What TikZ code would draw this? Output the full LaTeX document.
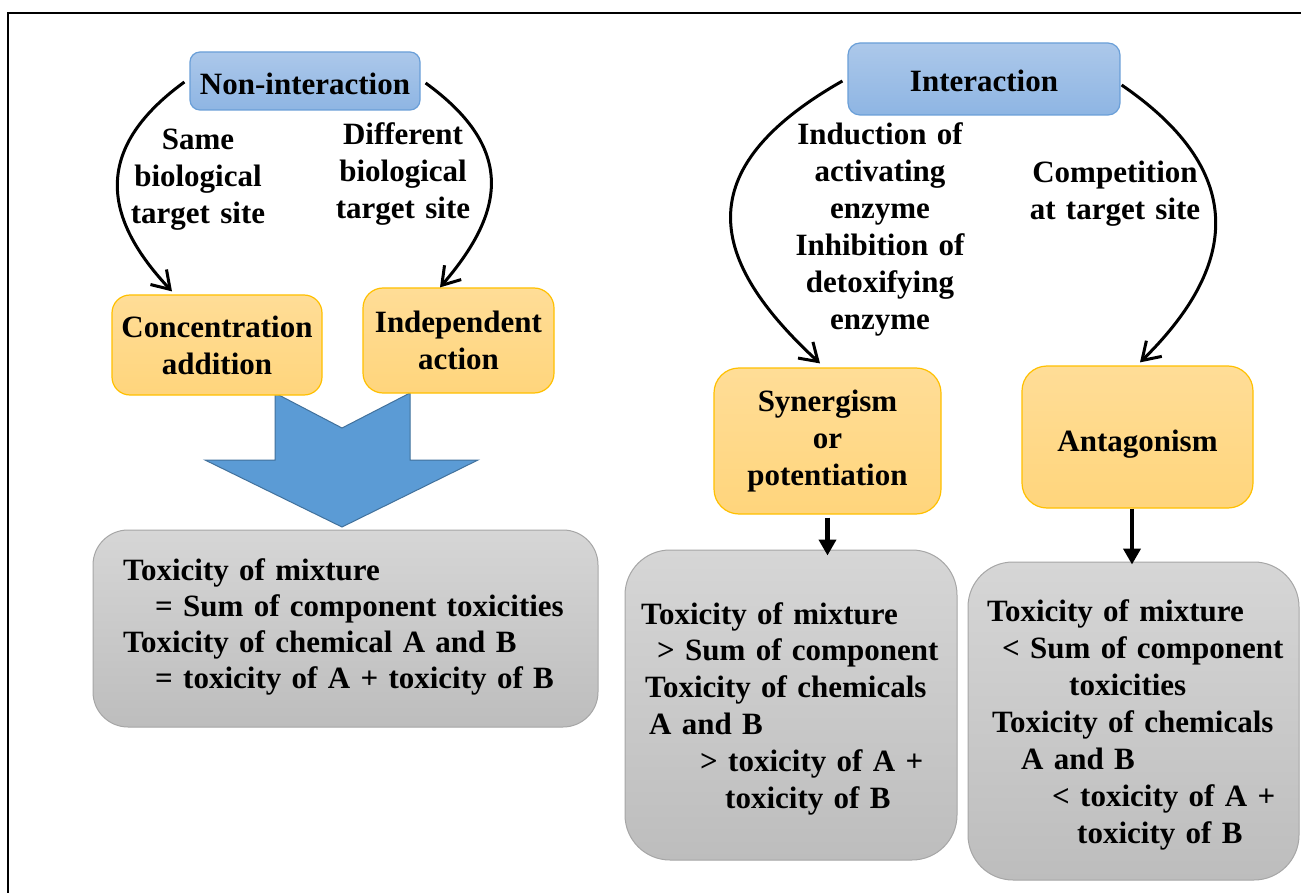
\documentclass[tikz,border=0pt]{standalone}
\usepackage{fontspec}
\setmainfont{Liberation Serif}
\usetikzlibrary{arrows.meta,calc}
\definecolor{bluetop}{HTML}{ACC8EA}
\definecolor{bluebot}{HTML}{8EB5E3}
\definecolor{blueedge}{HTML}{6A9FD8}
\definecolor{ortop}{HTML}{FFDD97}
\definecolor{orbot}{HTML}{FFD57C}
\definecolor{oredge}{HTML}{FFC000}
\definecolor{grtop}{HTML}{D6D6D6}
\definecolor{grbot}{HTML}{BDBDBD}
\definecolor{gredge}{HTML}{A6A6A6}
\definecolor{arrfill}{HTML}{5B9BD5}
\definecolor{arredge}{HTML}{41719C}
\begin{document}
\begin{tikzpicture}[x=1pt,y=-1pt,
  every node/.style={font=\fontsize{31}{37}\selectfont\bfseries, inner sep=0pt},
  bluebox/.style={draw=blueedge, line width=1.2pt, top color=bluetop, bottom color=bluebot, rounded corners=10pt, align=center},
  orbox/.style={draw=oredge, line width=1.2pt, top color=ortop, bottom color=orbot, rounded corners=20pt, align=center},
  grbox/.style={draw=gredge, line width=1pt, top color=grtop, bottom color=grbot},
  lbl/.style={text width=220pt, align=center, anchor=base},
  gtxt/.style={text width=470pt, align=left, anchor=base west},
  curve/.style={line width=3pt, -{Straight Barb[length=17pt,width=22pt]}},
  down/.style={line width=4.5pt, -{Triangle[length=16pt,width=17pt]}}
]
\useasboundingbox (0,0) rectangle (1301,893);
\fill[white] (0,0) rectangle (1301,893);
\draw[line width=2.5pt] (8,893) -- (8,13) -- (1301,13);

% big block arrow
\filldraw[fill=arrfill, draw=arredge, line width=1pt] (275,393) -- (342,428) -- (410,393) -- (410,460) -- (478,460) -- (342,527) -- (205,460) -- (275,460) -- cycle;

% boxes
\node[bluebox, minimum width=230pt, minimum height=58pt, text height=27pt, text depth=0pt] (ni) at (305,81) {Non-interaction};
\node[orbox, minimum width=210pt, minimum height=100pt, rounded corners=18pt] (ca) at (217,345) {Concentration\\addition};
\node[orbox, minimum width=191pt, minimum height=105pt] (ia) at (458.5,340.5) {Independent\\action};
\node[bluebox, minimum width=272pt, minimum height=72pt, rounded corners=12pt, text height=25pt, text depth=0pt] (inter) at (984,79) {Interaction};
\node[orbox, minimum width=227pt, minimum height=146pt, rounded corners=25pt] (syn) at (827.5,441) {Synergism\\or\\potentiation};
\node[orbox, minimum width=231pt, minimum height=142pt, rounded corners=25pt, text height=28pt, text depth=0pt] (ant) at (1137.5,437) {Antagonism};
\node[grbox, minimum width=505pt, minimum height=197pt, rounded corners=35pt] (g1) at (345.5,628.5) {};
\node[grbox, minimum width=332pt, minimum height=310pt, rounded corners=45pt] (g2) at (791,705) {};
\node[grbox, minimum width=331pt, minimum height=318pt, rounded corners=45pt] (g3) at (1133.5,721) {};

% texts in grey boxes
\node[gtxt, font=\fontsize{31}{36.3}\selectfont\bfseries] (g1t) at (123,580) {Toxicity of mixture\\\hspace*{32pt}= Sum of component toxicities\\Toxicity of chemical A and B\\\hspace*{32pt}= toxicity of A + toxicity of B};
\node[gtxt, font=\fontsize{31}{36.8}\selectfont\bfseries] (g2t) at (641,624) {Toxicity of mixture\\\hspace*{16pt}> Sum of component\\\hspace*{4pt}Toxicity of chemicals\\\hspace*{8pt}A and B\\\hspace*{59pt}> toxicity of A +\\\hspace*{84pt}toxicity of B};
\node[gtxt, font=\fontsize{31}{37}\selectfont\bfseries] (g3t) at (987,621) {Toxicity of mixture\\\hspace*{15pt}< Sum of component\\\hspace*{82pt}toxicities\\\hspace*{5pt}Toxicity of chemicals\\\hspace*{34pt}A and B\\\hspace*{65pt}< toxicity of A +\\\hspace*{90pt}toxicity of B};

% curve labels
\node[lbl] (l1) at (198,150) {Same\\biological\\target site};
\node[lbl] (l2) at (403,145) {Different\\biological\\target site};
\node[lbl] (l3) at (880,145) {Induction of\\activating\\enzyme\\Inhibition of\\detoxifying\\enzyme};
\node[lbl] (l4) at (1115,183) {Competition\\at target site};

% curved connectors
\draw[curve] ($(ni.west)+(-5,1)$) .. controls (91,150) and (104,219) .. ($(ca.north)+(-45,-3)$);
\draw[curve] ($(ni.east)+(5,2)$) .. controls (518,150) and (503,214) .. ($(ia.north)+(-18.5,0)$);
\draw[curve] ($(inter.west)+(-5,2)$) .. controls (686,170) and (709,261) .. ($(syn.north)+(-7.5,-4)$);
\draw[curve] ($(inter.east)+(1,6)$) .. controls (1253,175) and (1234,270) .. ($(ant.north)+(2.5,-3)$);

% straight connectors
\draw[down] ($(syn.south)+(0,3)$) -- ($(syn.south |- g2.north)+(0,6)$);
\draw[down] ($(ant.south)+(-5.5,0)$) -- ($(ant.south |- g3.north)+(-5.5,3)$);
\end{tikzpicture}
\end{document}
